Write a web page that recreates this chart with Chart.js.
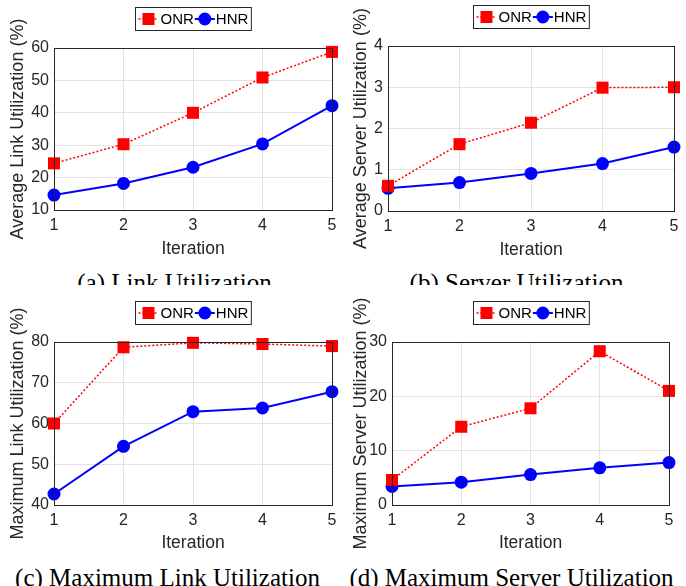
<!DOCTYPE html>
<html>
<head>
<meta charset="utf-8">
<script src="https://cdn.jsdelivr.net/npm/chart.js@4.4.1/dist/chart.umd.min.js"></script>
<style>
  body { margin: 0; background: #fff; }
  #page { position: relative; width: 686px; height: 586px; overflow: hidden; background: #fff; }
  .panel { position: absolute; width: 343px; height: 262px; }
  .cap { position: absolute; width: 343px; font-family: "Liberation Serif", "Times New Roman", serif;
         font-size: 25px; line-height: 25px; color: #000; white-space: nowrap; text-align: center; overflow: hidden; }
</style>
</head>
<body>
<div id="page">
  <div class="panel" style="left:0;top:0"><canvas id="c1" width="343" height="262"></canvas></div>
  <div class="panel" style="left:343px;top:0"><canvas id="c2" width="343" height="262"></canvas></div>
  <div class="panel" style="left:0;top:293px"><canvas id="c3" width="343" height="262"></canvas></div>
  <div class="panel" style="left:343px;top:293px"><canvas id="c4" width="343" height="262"></canvas></div>
  <div class="cap" style="left:3px;top:270px;height:15px">(a) Link Utilization</div>
  <div class="cap" style="left:345px;top:270px;height:15px">(b) Server Utilization</div>
  <div class="cap" style="left:-4px;top:565px;height:22px">(c) Maximum Link Utilization</div>
  <div class="cap" style="left:340px;top:565px;height:22px">(d) Maximum Server Utilization</div>
</div>
<script>
'use strict';

// データ
const iterations = ['1', '2', '3', '4', '5'];

const avgLinkONR = [24.4, 30.3, 40.0, 50.9, 58.8];
const avgLinkHNR = [14.6, 18.2, 23.2, 30.4, 42.2];

const avgServerONR = [0.61, 1.62, 2.14, 2.99, 3.0];
const avgServerHNR = [0.55, 0.69, 0.91, 1.15, 1.55];

const maxLinkONR = [60.0, 78.7, 79.8, 79.5, 79.0];
const maxLinkHNR = [42.7, 54.4, 62.9, 63.8, 67.8];

const maxServerONR = [4.6, 14.4, 17.8, 28.3, 21.0];
const maxServerHNR = [3.4, 4.2, 5.6, 6.85, 7.8];

const AXIS = '#262626';
const FONT = '"Liberation Sans", Arial, sans-serif';

// 凡例と枠線を描くプラグイン
const boxLegend = {
    id: 'boxLegend',
    afterDraw(chart) {
        const ctx = chart.ctx;
        const a = chart.chartArea;
        ctx.save();
        // 枠
        ctx.strokeStyle = AXIS;
        ctx.lineWidth = 1;
        ctx.setLineDash([]);
        ctx.strokeRect(Math.round(a.left) + 0.5, Math.round(a.top) + 0.5,
            Math.round(a.right - a.left), Math.round(a.bottom - a.top));

        // 凡例
        ctx.font = '15px ' + FONT;
        const w1 = ctx.measureText('ONR').width;
        const w2 = ctx.measureText('HNR').width;
        const lineLen = 20;
        const boxW = 3 + lineLen + 2 + w1 + 1 + lineLen + 1 + w2 + 3;
        const boxH = 23;
        const bx = Math.round((a.left + a.right) / 2 - boxW / 2) + 0.5;
        const by = Math.round(a.top - 41) + 0.5;
        ctx.fillStyle = '#fff';
        ctx.fillRect(bx, by, boxW, boxH);
        ctx.strokeRect(bx, by, boxW, boxH);
        const cy = by + boxH / 2;

        let x = bx + 3;
        ctx.strokeStyle = '#ff0000';
        ctx.lineWidth = 1.5;
        ctx.setLineDash([2, 2]);
        ctx.beginPath(); ctx.moveTo(x, cy); ctx.lineTo(x + lineLen, cy); ctx.stroke();
        ctx.setLineDash([]);
        ctx.fillStyle = '#ff0000';
        ctx.fillRect(x + lineLen / 2 - 6, cy - 6, 12, 12);
        x += lineLen + 2;
        ctx.fillStyle = '#000';
        ctx.textBaseline = 'middle';
        ctx.fillText('ONR', x, cy + 1);
        x += w1 + 1;
        ctx.strokeStyle = '#0000ff';
        ctx.lineWidth = 2;
        ctx.beginPath(); ctx.moveTo(x, cy); ctx.lineTo(x + lineLen, cy); ctx.stroke();
        ctx.fillStyle = '#0000ff';
        ctx.beginPath(); ctx.arc(x + lineLen / 2, cy, 6.5, 0, Math.PI * 2); ctx.fill();
        x += lineLen + 1;
        ctx.fillStyle = '#000';
        ctx.fillText('HNR', x, cy + 1);
        ctx.restore();
    }
};

function makePanel(id, onr, hnr, yMin, yMax, yStep, yTitle, lay) {
    return new Chart(document.getElementById(id), {
        type: 'line',
        data: {
            labels: iterations,
            datasets: [
                {
                    label: 'ONR',
                    data: onr,
                    borderColor: '#ff0000',
                    backgroundColor: '#ff0000',
                    borderWidth: 1.5,
                    borderDash: [2, 2],
                    pointStyle: 'rect',
                    pointRadius: 8.5,
                    pointBorderWidth: 0,
                    tension: 0,
                    clip: false
                },
                {
                    label: 'HNR',
                    data: hnr,
                    borderColor: '#0000ff',
                    backgroundColor: '#0000ff',
                    borderWidth: 2,
                    pointStyle: 'circle',
                    pointRadius: 6.5,
                    pointBorderWidth: 0,
                    tension: 0,
                    clip: false
                }
            ]
        },
        options: {
            responsive: false,
            animation: false,
            layout: { padding: { top: lay.top, right: lay.right, left: 0, bottom: 0 } },
            plugins: { legend: { display: false }, tooltip: { enabled: false } },
            scales: {
                x: {
                    offset: false,
                    grid: { color: '#e3e3e3', drawTicks: false },
                    border: { display: false },
                    ticks: { color: AXIS, font: { family: FONT, size: 16 }, padding: 6, maxRotation: 0 },
                    title: { display: true, text: 'Iteration', color: AXIS,
                             font: { family: FONT, size: 17.5 }, padding: { top: 0, bottom: lay.xTitle } },
                    afterFit(s) { s.height = lay.xh; }
                },
                y: {
                    min: yMin,
                    max: yMax,
                    grid: { color: '#e3e3e3', drawTicks: false },
                    border: { display: false },
                    ticks: { stepSize: yStep, color: AXIS, font: { family: FONT, size: 16 }, padding: 5 },
                    title: { display: true, text: yTitle, color: AXIS,
                             font: { family: FONT, size: 18 }, padding: { top: 7, bottom: 0 } },
                    afterFit(s) { s.width = lay.yw; }
                }
            }
        },
        plugins: [boxLegend]
    });
}

makePanel('c1', avgLinkONR, avgLinkHNR, 10, 60, 10, 'Average Link Utilization (%)',
    { top: 48, right: 11, yw: 54, xh: 52, xTitle: 2.5 });
makePanel('c2', avgServerONR, avgServerHNR, 0, 4, 1, 'Average Server Utilization (%)',
    { top: 46, right: 12, yw: 45, xh: 51, xTitle: 1.5 });
makePanel('c3', maxLinkONR, maxLinkHNR, 40, 80, 10, 'Maximum Link Utilization (%)',
    { top: 49, right: 11, yw: 54, xh: 50, xTitle: 1.5 });
makePanel('c4', maxServerONR, maxServerHNR, 0, 30, 10, 'Maximum Server Utilization (%)',
    { top: 49, right: 17, yw: 49, xh: 50, xTitle: 1.5 });
</script>
</body>
</html>
